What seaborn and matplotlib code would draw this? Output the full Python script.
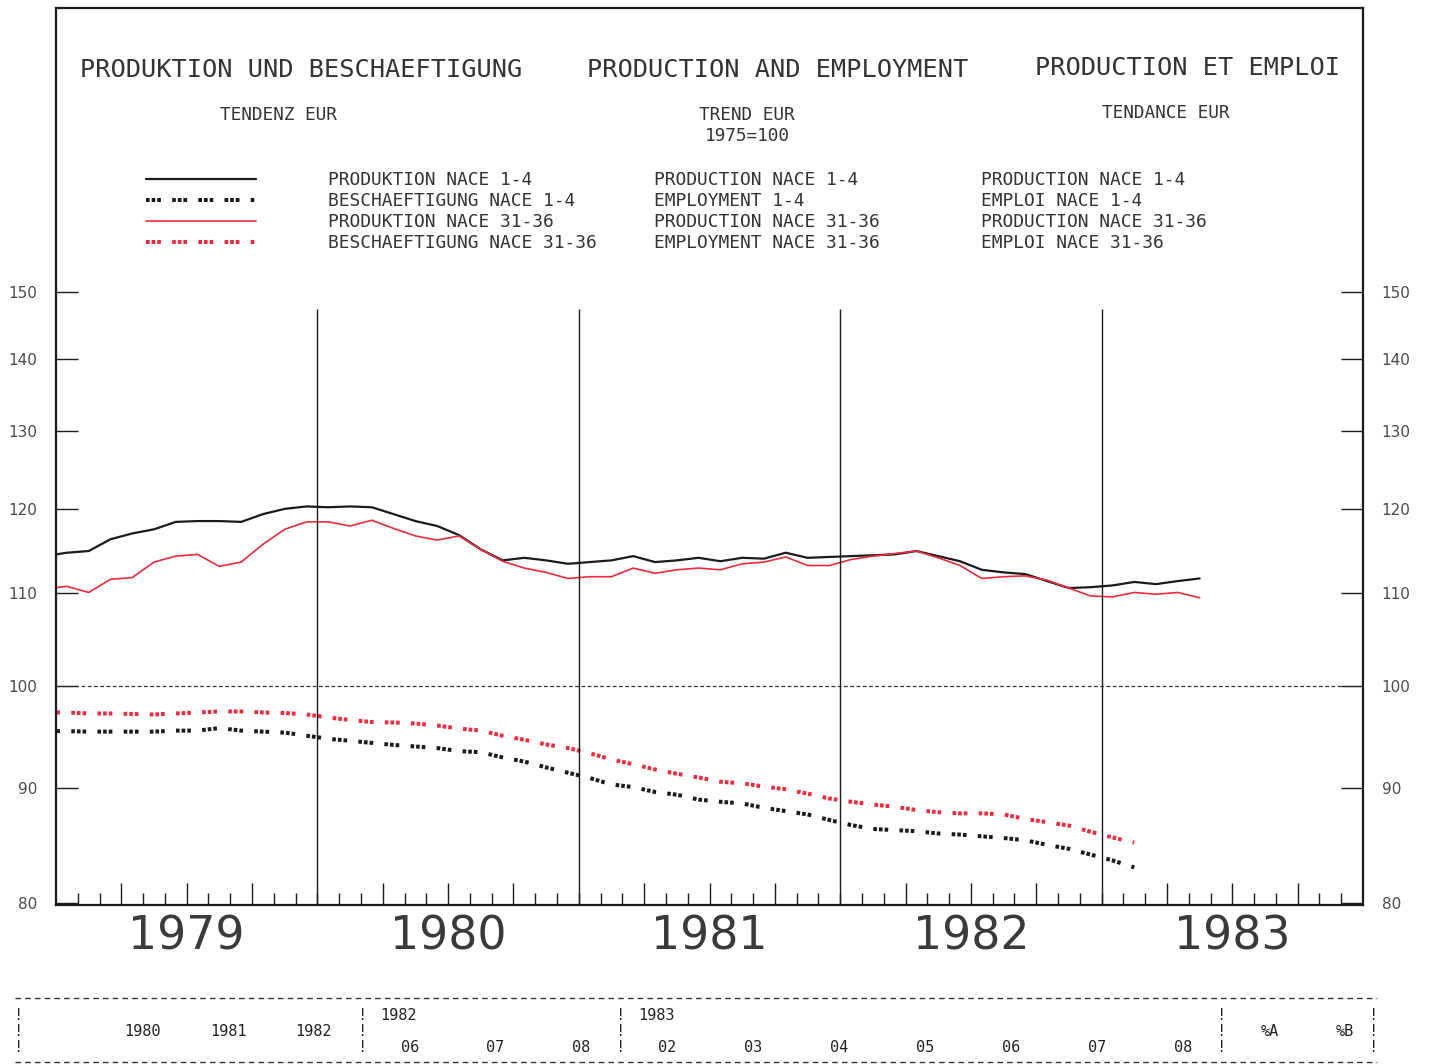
import numpy as np
import matplotlib.pyplot as plt
import seaborn as sns
from matplotlib.lines import Line2D
from matplotlib.ticker import NullLocator

# months since Jan 1979 (values are plotted at mid-month)
month = np.arange(-1, 53)
month_emp = np.arange(-1, 50)

# production NACE 1-4 (black solid)
prod_14 = [114.3, 114.7, 114.9, 116.3, 117.0, 117.5, 118.4, 118.5, 118.5, 118.4,
           119.35, 120.0, 120.3, 120.2, 120.3, 120.2, 119.35, 118.5, 117.9, 116.8,
           115.1, 113.8, 114.1, 113.8, 113.4, 113.6, 113.8, 114.3, 113.6, 113.8,
           114.1, 113.7, 114.1, 114.0, 114.7, 114.1, 114.2, 114.3, 114.4, 114.5,
           114.9, 114.3, 113.7, 112.7, 112.4, 112.2, 111.4, 110.6, 110.7, 110.9,
           111.3, 111.05, 111.4, 111.7]
# production NACE 31-36 (red solid)
prod_31 = [110.5, 110.8, 110.1, 111.6, 111.8, 113.6, 114.3, 114.5, 113.1, 113.6,
           115.7, 117.5, 118.4, 118.4, 117.9, 118.6, 117.6, 116.7, 116.2, 116.7,
           115.1, 113.7, 112.9, 112.4, 111.7, 111.9, 111.9, 112.9, 112.3, 112.7,
           112.9, 112.7, 113.4, 113.6, 114.2, 113.2, 113.2, 113.9, 114.3, 114.6,
           114.9, 114.1, 113.2, 111.7, 111.9, 112.0, 111.5, 110.6, 109.7, 109.6,
           110.1, 109.9, 110.1, 109.5]
# employment NACE 1-4 (black dotted)
emp_14 = [95.45, 95.45, 95.4, 95.4, 95.4, 95.4, 95.5, 95.5, 95.75, 95.5,
          95.4, 95.3, 95.0, 94.7, 94.5, 94.3, 94.1, 93.95, 93.8, 93.5,
          93.4, 92.9, 92.5, 91.95, 91.45, 90.95, 90.35, 90.1, 89.65, 89.4,
          88.95, 88.75, 88.6, 88.2, 87.9, 87.6, 87.1, 86.65, 86.3, 86.2,
          86.1, 85.9, 85.8, 85.65, 85.5, 85.3, 84.9, 84.55, 84.05, 83.55, 82.95]
# employment NACE 31-36 (red dotted)
emp_31 = [97.3, 97.3, 97.2, 97.2, 97.15, 97.1, 97.2, 97.3, 97.4, 97.4,
          97.3, 97.25, 97.1, 96.8, 96.55, 96.35, 96.3, 96.2, 96.0, 95.7,
          95.5, 95.0, 94.6, 94.15, 93.8, 93.3, 92.7, 92.25, 91.75, 91.35,
          91.0, 90.6, 90.45, 90.15, 89.9, 89.5, 89.05, 88.75, 88.5, 88.3,
          88.0, 87.8, 87.7, 87.7, 87.6, 87.2, 86.9, 86.6, 86.05, 85.55, 85.1]

years = ["1979", "1980", "1981", "1982", "1983"]
y_ticks = [80, 90, 100, 110, 120, 130, 140, 150]

legend_de = ["PRODUKTION NACE 1-4", "BESCHAEFTIGUNG NACE 1-4",
             "PRODUKTION NACE 31-36", "BESCHAEFTIGUNG NACE 31-36"]
legend_en = ["PRODUCTION NACE 1-4", "EMPLOYMENT 1-4",
             "PRODUCTION NACE 31-36", "EMPLOYMENT NACE 31-36"]
legend_fr = ["PRODUCTION NACE 1-4", "EMPLOI NACE 1-4",
             "PRODUCTION NACE 31-36", "EMPLOI NACE 31-36"]

BLACK = "#1a1a1a"
RED = "#ee2a3c"
TXT = "#333333"
DOTS = (0, (0.9, 0.5, 0.9, 0.5, 0.9, 2.8))

sns.set_theme(style="white")
plt.rcParams['font.family'] = ['DejaVu Sans']

W, H = 1429, 1064
fig = plt.figure(figsize=(W / 100, H / 100), dpi=100)
ax = fig.add_axes([56 / W, 1 - 905 / H, (1363 - 56) / W, (905 - 8) / H])


def fx(x):
    return x / W


def fy(y):
    return 1 - y / H


sns.lineplot(x=month + 0.5, y=prod_14, ax=ax, color=BLACK, linewidth=1.6)
sns.lineplot(x=month + 0.5, y=prod_31, ax=ax, color=RED, linewidth=1.2)
sns.lineplot(x=month_emp + 0.5, y=emp_14, ax=ax, color=BLACK, linewidth=2.9,
             linestyle=DOTS)
sns.lineplot(x=month_emp + 0.5, y=emp_31, ax=ax, color=RED, linewidth=2.9,
             linestyle=DOTS)

ax.set_yscale('log')
ax.set_xlim(0, 60)
ax.set_ylim(79.8, 201)

# year separators and base line
ax.vlines([12, 24, 36, 48], 79.8, 147.5, color=BLACK, linewidth=1.0)
ax.axhline(100, color="#333333", linewidth=0.9, linestyle=(0, (3, 2)))

ax.set_yticks(y_ticks, [str(v) for v in y_ticks])
ax.yaxis.set_minor_locator(NullLocator())
ax.tick_params(axis='y', which='major', direction='in', length=16, width=1,
               left=True, right=True, labelleft=True, labelright=True,
               pad=13.5, labelsize=11, labelcolor="#4a4a4a", color=BLACK)

quarters = [m for m in range(3, 60, 3) if m % 12]
q_labels = [years[m // 12] if m % 12 == 6 else "" for m in quarters]
ax.set_xticks(quarters, q_labels)
ax.set_xticks(range(1, 60), minor=True)
ax.tick_params(axis='x', which='major', direction='in', length=16, width=1,
               bottom=True, pad=7, labelsize=33, labelcolor="#3a3a3a", color=BLACK)
ax.tick_params(axis='x', which='minor', direction='in', length=9, width=1,
               bottom=True, color=BLACK)
ax.set_xlabel("")
ax.set_ylabel("")

for sp in ax.spines.values():
    sp.set_color(BLACK)
    sp.set_linewidth(1.6)

# titles
mono = dict(family="DejaVu Sans Mono", color=TXT, va="center")
fig.text(fx(80), fy(70), "PRODUKTION UND BESCHAEFTIGUNG", fontsize=18.2, **mono)
fig.text(fx(587), fy(70), "PRODUCTION AND EMPLOYMENT", fontsize=18.2, **mono)
fig.text(fx(1035), fy(68), "PRODUCTION ET EMPLOI", fontsize=18.2, **mono)
fig.text(fx(220), fy(115), "TENDENZ EUR", fontsize=12.8, **mono)
fig.text(fx(747), fy(115), "TREND EUR", fontsize=12.8, ha="center", **mono)
fig.text(fx(747), fy(136), "1975=100", fontsize=12.8, ha="center", **mono)
fig.text(fx(1102), fy(113), "TENDANCE EUR", fontsize=12.8, **mono)

# legend
rows = [180, 201, 222, 243]
styles = [(BLACK, 1.6, '-'), (BLACK, 2.9, DOTS), (RED, 1.2, '-'), (RED, 2.9, DOTS)]
for r, (c, lw, ls) in zip(rows, styles):
    fig.add_artist(Line2D([fx(146), fx(256)], [fy(r - 1), fy(r - 1)],
                          transform=fig.transFigure, color=c, linewidth=lw,
                          linestyle=ls))
for col_x, labels in zip([328, 654, 981], [legend_de, legend_en, legend_fr]):
    for r, lab in zip(rows, labels):
        fig.text(fx(col_x), fy(r), lab, fontsize=12.9, **mono)

# table below the chart
for yy in [998, 1062]:
    fig.add_artist(Line2D([fx(15), fx(1377)], [fy(yy), fy(yy)],
                          transform=fig.transFigure, color="#333333",
                          linewidth=1.0, linestyle=(0, (4, 3))))
tab = dict(family="DejaVu Sans Mono", color="#222222", va="center",
           ha="center", fontsize=11)
for yy in [1015, 1031, 1047]:
    for xx in [18, 362, 620, 1221, 1373]:
        fig.text(fx(xx), fy(yy), "!", **tab)
fig.text(fx(398), fy(1015), "1982", **tab)
fig.text(fx(656), fy(1015), "1983", **tab)
for xx, lab in zip([142, 228, 313], ["1980", "1981", "1982"]):
    fig.text(fx(xx), fy(1031), lab, **tab)
fig.text(fx(1270), fy(1031), "%A", **tab)
fig.text(fx(1345), fy(1031), "%B", **tab)
for xx, lab in zip([410, 495, 581, 667, 753, 839, 925, 1011, 1097, 1183],
                   ["06", "07", "08", "02", "03", "04", "05", "06", "07", "08"]):
    fig.text(fx(xx), fy(1047), lab, **tab)

fig.savefig("out.png", dpi=100)
